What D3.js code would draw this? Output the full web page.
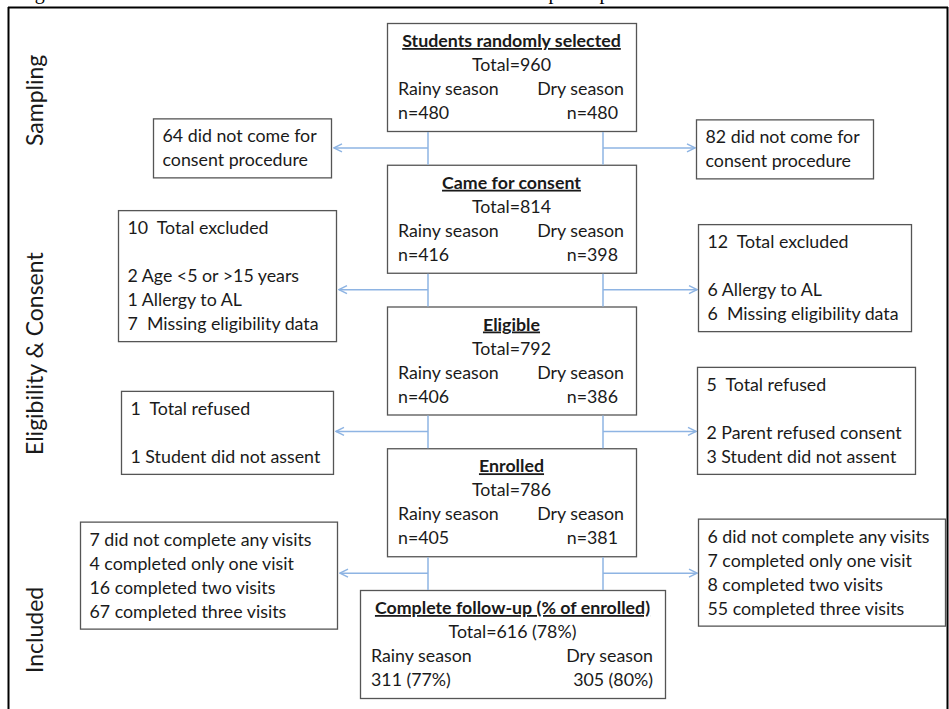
<!DOCTYPE html>
<html>
<head>
<meta charset="utf-8">
<script src="https://cdn.jsdelivr.net/npm/d3@7"></script>
<style>
  body { margin: 0; background: #fff; }
  svg text { font-family: Lato, "Open Sans", sans-serif; fill: #1a1a1a; }
</style>
</head>
<body>
<div id="chart"></div>
<script>
// Flow of students through the study, stage by stage
var stageTitles = ["Students randomly selected", "Came for consent", "Eligible", "Enrolled", "Complete follow-up (% of enrolled)"];
var stageTotals = [960, 814, 792, 786, 616];
var rainyN = [480, 416, 406, 405, 311];
var dryN = [480, 398, 386, 381, 305];
var totalPct = [null, null, null, null, 78];
var rainyPct = [null, null, null, null, 77];
var dryPct = [null, null, null, null, 80];

// Losses between stages (rainy season on the left, dry season on the right)
var rainyLosses = [
  ["64 did not come for", "consent procedure"],
  ["10  Total excluded", "", "2 Age <5 or >15 years", "1 Allergy to AL", "7  Missing eligibility data"],
  ["1  Total refused", "", "1 Student did not assent"],
  ["7 did not complete any visits", "4 completed only one visit", "16 completed two visits", "67 completed three visits"]
];
var dryLosses = [
  ["82 did not come for", "consent procedure"],
  ["12  Total excluded", "", "6 Allergy to AL", "6  Missing eligibility data"],
  ["5  Total refused", "", "2 Parent refused consent", "3 Student did not assent"],
  ["6 did not complete any visits", "7 completed only one visit", "8 completed two visits", "55 completed three visits"]
];

var sectionLabels = ["Sampling", "Eligibility & Consent", "Included"];

var captionText = "Figure 1. Flow chart of the enrolment of school children and their participation";

// Layout
var svgWidth = 949;
var svgHeight = 709;
var lineH = 24;
var boxH = 108;
var fontSize = "17.8px";
var blue = "#8eb4e3";
var boxStroke = "#555";

var svg = d3.select("#chart")
  .append("svg")
  .attr("width", svgWidth)
  .attr("height", svgHeight);

svg.append("defs").append("marker")
  .attr("id", "arrow")
  .attr("viewBox", "0 0 10 10")
  .attr("refX", 9)
  .attr("refY", 5)
  .attr("markerWidth", 10)
  .attr("markerHeight", 10)
  .attr("markerUnits", "userSpaceOnUse")
  .attr("orient", "auto")
  .append("path")
  .attr("d", "M1,1 L9,5 L1,9")
  .attr("fill", "none")
  .attr("stroke", blue)
  .attr("stroke-width", 1.4);

// caption cut off at the top of the picture
svg.append("text")
  .attr("x", 18)
  .attr("y", -1)
  .style("font-family", "'Liberation Serif', 'Times New Roman', serif")
  .style("font-size", "20px")
  .style("fill", "#000")
  .text(captionText);

// outer frame
var frame = svg.append("g").attr("stroke", "#000").attr("stroke-width", 2);
frame.append("line").attr("x1", 8).attr("x2", 948).attr("y1", 7.5).attr("y2", 7.5);
frame.append("line").attr("x1", 8.5).attr("x2", 8.5).attr("y1", 7).attr("y2", svgHeight);
frame.append("line").attr("x1", 947.5).attr("x2", 947.5).attr("y1", 7).attr("y2", svgHeight);

// Scales: stage index -> box top, season -> connector x
var y = d3.scaleLinear().domain([0, stageTitles.length - 1]).range([23, 590]);
var stemX = d3.scaleOrdinal().domain(["rainy", "dry"]).range([428, 603]);

var boxLeft = function(i) { return i === 4 ? 360 : 387; };
var boxRight = function(i) { return i === 4 ? 665 : 636; };

// Central stage boxes
var stages = svg.selectAll("g.stage")
  .data(stageTitles)
  .enter()
  .append("g")
  .attr("class", "stage");

stages.append("rect")
  .attr("x", (d, i) => boxLeft(i) + 0.5)
  .attr("y", (d, i) => y(i) + 0.5)
  .attr("width", (d, i) => boxRight(i) - boxLeft(i))
  .attr("height", boxH)
  .attr("fill", "#fff")
  .attr("stroke", boxStroke)
  .attr("stroke-width", 1.3);

stages.append("text")
  .attr("x", (d, i) => (boxLeft(i) + boxRight(i)) / 2)
  .attr("y", (d, i) => y(i) + 24)
  .attr("text-anchor", "middle")
  .style("font-size", fontSize)
  .style("font-weight", "bold")
  .style("text-decoration", "underline")
  .text(d => d);

stages.append("text")
  .attr("x", (d, i) => (boxLeft(i) + boxRight(i)) / 2)
  .attr("y", (d, i) => y(i) + 24 + lineH)
  .attr("text-anchor", "middle")
  .style("font-size", fontSize)
  .text((d, i) => "Total=" + stageTotals[i] + (totalPct[i] != null ? " (" + totalPct[i] + "%)" : ""));

stages.append("text")
  .attr("x", (d, i) => boxLeft(i) + 11)
  .attr("y", (d, i) => y(i) + 24 + 2 * lineH)
  .style("font-size", fontSize)
  .text("Rainy season");

stages.append("text")
  .attr("x", (d, i) => boxRight(i) - 12)
  .attr("y", (d, i) => y(i) + 24 + 2 * lineH)
  .attr("text-anchor", "end")
  .style("font-size", fontSize)
  .text("Dry season");

stages.append("text")
  .attr("x", (d, i) => boxLeft(i) + 11)
  .attr("y", (d, i) => y(i) + 24 + 3 * lineH)
  .style("font-size", fontSize)
  .text((d, i) => rainyPct[i] != null ? rainyN[i] + " (" + rainyPct[i] + "%)" : "n=" + rainyN[i]);

stages.append("text")
  .attr("x", (d, i) => boxRight(i) - (rainyPct[i] != null ? 12 : 18))
  .attr("y", (d, i) => y(i) + 24 + 3 * lineH)
  .attr("text-anchor", "end")
  .style("font-size", fontSize)
  .text((d, i) => dryPct[i] != null ? dryN[i] + " (" + dryPct[i] + "%)" : "n=" + dryN[i]);

// Connectors between stages and side boxes with losses
var gapY = d3.range(stageTitles.length - 1).map(i => (y(i) + boxH + y(i + 1)) / 2);

var leftRight = [331, 336, 333, 337];   // right edge of rainy loss boxes
var leftW = [178, 218, 212, 257];
var leftDy = [-29.5, -79.5, -40.5, -51.5];
var rightLeft = [696, 698, 697, 698];  // left edge of dry loss boxes
var rightW = [177, 213, 218, 247];
var rightDy = [-28.5, -65.5, -64.5, -54.5];

var links = svg.append("g")
  .attr("stroke", blue)
  .attr("stroke-width", 1.5)
  .attr("fill", "none");

gapY.forEach(function(gy, i) {
  ["rainy", "dry"].forEach(function(s) {
    links.append("line")
      .attr("x1", stemX(s)).attr("x2", stemX(s))
      .attr("y1", y(i) + boxH + 1).attr("y2", y(i + 1));
  });
  links.append("line")
    .attr("x1", stemX("rainy")).attr("x2", leftRight[i] + 3)
    .attr("y1", gy).attr("y2", gy)
    .attr("marker-end", "url(#arrow)");
  links.append("line")
    .attr("x1", stemX("dry")).attr("x2", rightLeft[i] - 1)
    .attr("y1", gy).attr("y2", gy)
    .attr("marker-end", "url(#arrow)");
});

function drawLossBox(lines, x, top, w) {
  var g = svg.append("g");
  g.append("rect")
    .attr("x", x + 0.5)
    .attr("y", top + 0.5)
    .attr("width", w)
    .attr("height", lines.length * lineH + 11)
    .attr("fill", "#fff")
    .attr("stroke", boxStroke)
    .attr("stroke-width", 1.3);
  g.selectAll("text")
    .data(lines)
    .enter()
    .append("text")
    .attr("x", x + 9.5)
    .attr("y", (d, k) => top + 24 + k * lineH)
    .style("font-size", fontSize)
    .style("white-space", "pre")
    .text(d => d);
}

rainyLosses.forEach(function(lines, i) {
  drawLossBox(lines, leftRight[i] - leftW[i], gapY[i] + leftDy[i], leftW[i]);
});
dryLosses.forEach(function(lines, i) {
  drawLossBox(lines, rightLeft[i], gapY[i] + rightDy[i], rightW[i]);
});

// Section labels down the left side
var sectionStart = [146, 455, 673];
svg.selectAll("text.section")
  .data(sectionLabels)
  .enter()
  .append("text")
  .attr("class", "section")
  .attr("transform", (d, i) => "translate(43," + sectionStart[i] + ") rotate(-90)")
  .style("font-size", "23px")
  .text(d => d);
</script>
</body>
</html>
